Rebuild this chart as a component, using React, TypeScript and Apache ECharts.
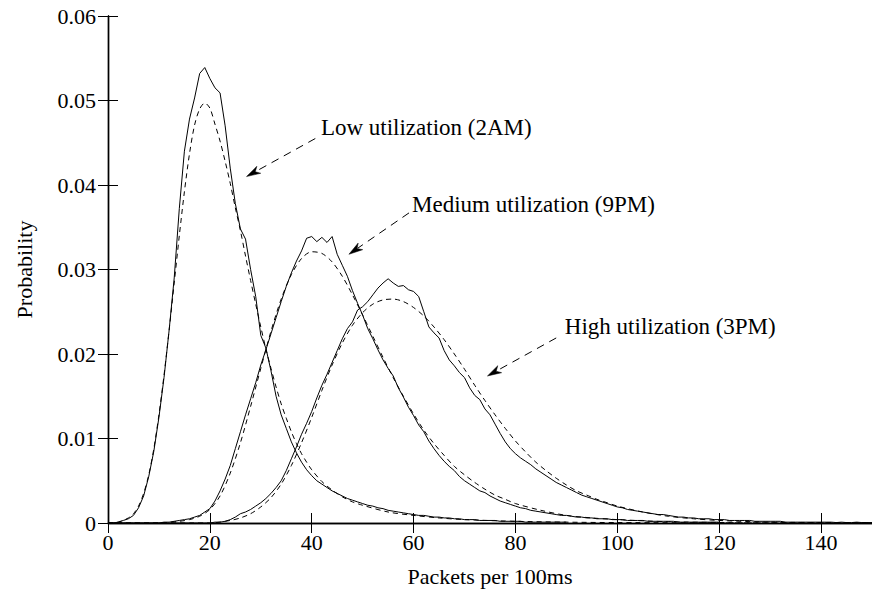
import React, { useEffect, useRef } from "react";
import * as echarts from "echarts";

// Measured distributions: value at packets = index (0, 1, 2, ...)
const lowMeasured = [
  0, 0, 0.0001, 0.0003, 0.0005, 0.0009, 0.0018, 0.0032, 0.0055, 0.0085,
  0.0125, 0.0172, 0.0228, 0.029, 0.0372, 0.044, 0.0478, 0.0503, 0.0532, 0.0539,
  0.0526, 0.0515, 0.0509, 0.047, 0.042, 0.0378, 0.0348, 0.0336, 0.03, 0.0268,
  0.0222, 0.0207, 0.018, 0.015, 0.0128, 0.0112, 0.0096, 0.0083, 0.0072, 0.0063,
  0.0056, 0.005, 0.0046, 0.0042, 0.0038, 0.0035, 0.0032, 0.0029, 0.0027, 0.0025,
  0.0023, 0.0021, 0.002, 0.0018, 0.0017, 0.0015, 0.0014, 0.0013, 0.0012, 0.0011,
  0.001, 0.0009, 0.0009, 0.0008, 0.0007, 0.0007, 0.0006, 0.0006, 0.0005, 0.0005,
  0.0004, 0.0004, 0.0004, 0.0003, 0.0003, 0.0003, 0.0003, 0.0002, 0.0002, 0.0002,
  0.0002, 0.0002, 0.0001, 0.0001, 0.0001, 0.0001, 0.0001, 0.0001, 0.0001, 0.0001, 0.0001,
];

const mediumMeasured = [
  0, 0, 0, 0, 0, 0, 0, 0, 0, 0, 0,
  0.0001, 0.0001, 0.0002, 0.0003, 0.0004, 0.0005, 0.0007, 0.0009, 0.0013, 0.0017,
  0.0026, 0.0038, 0.0052, 0.0068, 0.0088, 0.0108, 0.0128, 0.0147, 0.0166, 0.0187,
  0.0205, 0.0224, 0.0243, 0.0262, 0.028, 0.0296, 0.031, 0.0322, 0.0337, 0.0339,
  0.0333, 0.0338, 0.0332, 0.0339, 0.0318, 0.0305, 0.0292, 0.0275, 0.026, 0.0246,
  0.023, 0.0218, 0.0205, 0.0193, 0.0183, 0.0174, 0.016, 0.0149, 0.0137, 0.0127,
  0.0116, 0.0108, 0.0097, 0.0088, 0.008, 0.0073, 0.0067, 0.0062, 0.0055, 0.005,
  0.0046, 0.0042, 0.0038, 0.0036, 0.0032, 0.0029, 0.0026, 0.0024, 0.0022, 0.002,
  0.0018, 0.0017, 0.0015, 0.0014, 0.0013, 0.0012, 0.0011, 0.001, 0.0009, 0.0009,
  0.0008, 0.0007, 0.0007, 0.0006, 0.0006, 0.0005, 0.0005, 0.0005, 0.0004, 0.0004,
  0.0004, 0.0003, 0.0003, 0.0003, 0.0003, 0.0002, 0.0002, 0.0002, 0.0002, 0.0002,
  0.0002, 0.0001, 0.0001, 0.0001, 0.0001, 0.0001, 0.0001, 0.0001, 0.0001, 0.0001,
];

const highMeasured = [
  0, 0, 0, 0, 0, 0, 0, 0, 0, 0, 0, 0, 0, 0, 0, 0, 0, 0, 0, 0, 0,
  0.0001, 0.0001, 0.0002, 0.0004, 0.0007, 0.0011, 0.0013, 0.0016, 0.002, 0.0024,
  0.0029, 0.0035, 0.0042, 0.005, 0.0062, 0.0076, 0.009, 0.0105, 0.0118, 0.0132,
  0.0148, 0.0163, 0.0176, 0.019, 0.0204, 0.0218, 0.023, 0.0238, 0.0252, 0.0256,
  0.0262, 0.027, 0.0278, 0.0284, 0.0289, 0.0284, 0.028, 0.0281, 0.0276, 0.0274,
  0.0268, 0.025, 0.0232, 0.0225, 0.0219, 0.0204, 0.0193, 0.0186, 0.0178, 0.0172,
  0.016, 0.0151, 0.0146, 0.0135, 0.0128, 0.0117, 0.0106, 0.0096, 0.0088, 0.0082,
  0.0077, 0.0073, 0.0069, 0.0064, 0.006, 0.0056, 0.0052, 0.0048, 0.0045, 0.0042,
  0.0039, 0.0036, 0.0033, 0.0031, 0.0029, 0.0027, 0.0025, 0.0023, 0.0021, 0.0019,
  0.0018, 0.0016, 0.0015, 0.0014, 0.0013, 0.0012, 0.0011, 0.001, 0.001, 0.0009,
  0.0008, 0.0007, 0.0007, 0.0006, 0.0006, 0.0005, 0.0005, 0.0005, 0.0004, 0.0004,
  0.0004, 0.0003, 0.0003, 0.0003, 0.0003, 0.0003, 0.0002, 0.0002, 0.0002, 0.0002,
  0.0002, 0.0002, 0.0001, 0.0001, 0.0001, 0.0001, 0.0001, 0.0001, 0.0001, 0.0001,
  0.0001, 0.0001, 0.00005, 0.0001, 0.00005, 0.00005, 0.0001, 0.00005, 0.00005, 0.00005,
];

// Fitted distributions (dashed)
const lowFitX = [0, 2, 4, 5, 6, 7, 8, 9, 10, 11, 12, 13, 14, 15, 16, 17, 18, 19, 20, 21, 22, 23, 24, 25, 26, 27, 28, 29, 30, 31, 32, 33, 34, 35, 36, 37, 38, 39, 40, 42, 44, 46, 48, 50, 55, 60, 65, 70, 80, 90, 100, 150];
const lowFitY = [0, 0.0001, 0.0006, 0.0011, 0.002, 0.0035, 0.0057, 0.0088, 0.0128, 0.0175, 0.0228, 0.0284, 0.034, 0.0392, 0.0437, 0.0471, 0.049, 0.0497, 0.0491, 0.0472, 0.0452, 0.0428, 0.0402, 0.0373, 0.0346, 0.0316, 0.0287, 0.0259, 0.0232, 0.0206, 0.0183, 0.0161, 0.0141, 0.0124, 0.0108, 0.0094, 0.0082, 0.0072, 0.0063, 0.0049, 0.0039, 0.0031, 0.0025, 0.0021, 0.0013, 0.0009, 0.0006, 0.0004, 0.0002, 0.0001, 0.00005, 0];

const mediumFitX = [0, 10, 14, 16, 18, 20, 22, 24, 26, 28, 30, 32, 34, 36, 38, 40, 42, 44, 46, 48, 50, 52, 54, 56, 58, 60, 62, 64, 66, 68, 70, 72, 74, 76, 78, 80, 85, 90, 95, 100, 110, 120, 130, 150];
const mediumFitY = [0, 0, 0.0002, 0.0004, 0.0008, 0.0016, 0.0032, 0.0059, 0.0095, 0.0138, 0.0183, 0.0227, 0.0265, 0.0294, 0.0313, 0.0321, 0.0319, 0.0309, 0.0292, 0.027, 0.0246, 0.0221, 0.0196, 0.0172, 0.015, 0.0129, 0.011, 0.0094, 0.008, 0.0067, 0.0057, 0.0048, 0.004, 0.0033, 0.0028, 0.0023, 0.0015, 0.0009, 0.0006, 0.0004, 0.00015, 0.00006, 0, 0];

const highFitX = [0, 20, 24, 26, 28, 30, 32, 34, 36, 38, 40, 42, 44, 46, 48, 50, 52, 54, 56, 58, 60, 62, 64, 66, 68, 70, 72, 74, 76, 78, 80, 82, 84, 86, 88, 90, 92, 94, 96, 98, 100, 105, 110, 115, 120, 130, 140, 150];
const highFitY = [0, 0, 0.0003, 0.0006, 0.0011, 0.0019, 0.003, 0.0046, 0.0068, 0.0095, 0.0125, 0.0157, 0.0187, 0.0213, 0.0234, 0.0249, 0.0259, 0.0264, 0.0265, 0.0262, 0.0255, 0.0245, 0.0232, 0.0217, 0.02, 0.0182, 0.0163, 0.0145, 0.0128, 0.0112, 0.0097, 0.0084, 0.0072, 0.0062, 0.0053, 0.0045, 0.0038, 0.0033, 0.0028, 0.0024, 0.002, 0.0013, 0.0008, 0.0005, 0.0003, 0.0001, 0.00005, 0.00002];

// Annotations: label, text anchor (data coords), arrow start and tip (data coords)
const annotationLabels = ["Low utilization (2AM)", "Medium utilization (9PM)", "High utilization (3PM)"];
const annotationText = [[41.8, 0.0468], [59.7, 0.0377], [89.7, 0.0232]];
const arrowStart = [[40.7, 0.0455], [59.1, 0.0367], [88.0, 0.0219]];
const arrowTip = [[27.2, 0.041], [47.3, 0.0318], [74.5, 0.0174]];

const xTicks = { min: 0, max: 150, interval: 20 };
const yTicks = { min: 0, max: 0.06, interval: 0.01 };

const FONT = "Times New Roman, Liberation Serif, DejaVu Serif, serif";
const FS = 22;

const indexed = (ys: number[]) => ys.map((y, i) => [i, y]);
const zip = (xs: number[], ys: number[]) =>
  xs.slice(0, Math.min(xs.length, ys.length)).map((x, i) => [x, ys[i]]);

export default function App() {
  const ref = useRef<HTMLDivElement>(null);

  useEffect(() => {
    if (!ref.current) return;
    const chart = echarts.init(ref.current, undefined, { renderer: "svg" });

    const axisLine = { show: true, lineStyle: { color: "#000", width: 1.4 } };
    const axisTick = { show: true, inside: true, length: 10, lineStyle: { color: "#000", width: 1 } };

    const solid = (name: string, data: number[][]) => ({
      name,
      type: "line",
      data,
      showSymbol: false,
      symbol: "none",
      clip: true,
      lineStyle: { color: "#000", width: 1 },
      z: 3,
    });
    const dashed = (name: string, data: number[][]) => ({
      name,
      type: "line",
      data,
      showSymbol: false,
      symbol: "none",
      smooth: 0.3,
      clip: true,
      lineStyle: { color: "#000", width: 1, type: [5, 4] },
      z: 3,
    });

    chart.setOption({
      animation: false,
      backgroundColor: "#fff",
      textStyle: { fontFamily: FONT },
      grid: { left: 108, top: 16, width: 767, height: 508 },
      xAxis: [
        {
          type: "value",
          ...xTicks,
          position: "bottom",
          name: "Packets per 100ms",
          nameLocation: "middle",
          nameGap: 42,
          nameTextStyle: { fontSize: FS, color: "#000", fontFamily: FONT },
          axisLine,
          axisTick,
          axisLabel: { fontSize: FS, color: "#000", margin: 8, fontFamily: FONT, showMaxLabel: false },
          splitLine: { show: false },
        },
        {
          type: "value",
          ...xTicks,
          position: "top",
          axisLine,
          axisTick,
          axisLabel: { show: false },
          splitLine: { show: false },
        },
      ],
      yAxis: [
        {
          type: "value",
          ...yTicks,
          position: "left",
          name: "Probability",
          nameLocation: "middle",
          nameGap: 73,
          nameTextStyle: { fontSize: FS, color: "#000", fontFamily: FONT },
          axisLine,
          axisTick,
          axisLabel: {
            fontSize: FS,
            color: "#000",
            margin: 12,
            fontFamily: FONT,
            formatter: (v: number) => (v === 0 ? "0" : v.toFixed(2)),
          },
          splitLine: { show: false },
        },
        {
          type: "value",
          ...yTicks,
          position: "right",
          axisLine,
          axisTick,
          axisLabel: { show: false },
          splitLine: { show: false },
        },
      ],
      series: [
        solid("Low measured", indexed(lowMeasured)),
        dashed("Low fit", zip(lowFitX, lowFitY)),
        solid("Medium measured", indexed(mediumMeasured)),
        dashed("Medium fit", zip(mediumFitX, mediumFitY)),
        solid("High measured", indexed(highMeasured)),
        dashed("High fit", zip(highFitX, highFitY)),
      ],
    });

    const toPx = (p: number[]) => chart.convertToPixel({ gridIndex: 0 }, p) as number[];
    const graphics: any[] = [];
    annotationLabels.forEach((label, i) => {
      const t = toPx(annotationText[i]);
      const s = toPx(arrowStart[i]);
      const e = toPx(arrowTip[i]);
      const dx = e[0] - s[0];
      const dy = e[1] - s[1];
      const len = Math.hypot(dx, dy);
      const ux = dx / len;
      const uy = dy / len;
      const headLen = 14;
      const headHalf = 4;
      const bx = e[0] - ux * headLen;
      const by = e[1] - uy * headLen;
      const nx = -uy;
      const ny = ux;
      graphics.push({
        type: "text",
        x: t[0],
        y: t[1],
        z: 10,
        style: {
          text: label,
          fill: "#000",
          fontSize: 23,
          fontFamily: FONT,
          align: "left",
          verticalAlign: "middle",
        },
      });
      graphics.push({
        type: "line",
        z: 10,
        shape: { x1: s[0], y1: s[1], x2: bx + ux * 3, y2: by + uy * 3 },
        style: { stroke: "#000", lineWidth: 1, lineDash: [8, 6] },
      });
      graphics.push({
        type: "polygon",
        z: 10,
        shape: {
          points: [
            [e[0], e[1]],
            [bx + nx * headHalf, by + ny * headHalf],
            [bx + ux * 4, by + uy * 4],
            [bx - nx * headHalf, by - ny * headHalf],
          ],
        },
        style: { fill: "#000", stroke: "#000", lineWidth: 0.5 },
      });
    });
    chart.setOption({ graphic: graphics });

    return () => chart.dispose();
  }, []);

  return (
    <div
      ref={ref}
      style={{ position: "absolute", left: 0, top: 0, width: 872, height: 592 }}
    />
  );
}
